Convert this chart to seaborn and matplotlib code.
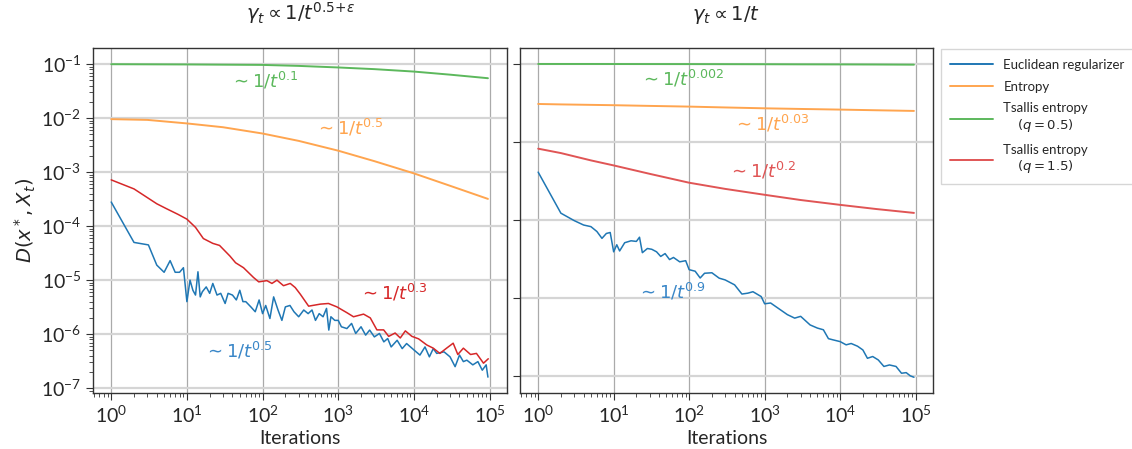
import numpy as np
import pandas as pd
import matplotlib
matplotlib.use("Agg")
import matplotlib.pyplot as plt
import seaborn as sns

# ---- data ----
# left panel: gamma_t ~ 1/t^(0.5+eps)
x_smooth = [1, 3, 10, 30, 100, 300, 1000, 3000, 10000, 30000, 95000]
left_green = [0.100, 0.0995, 0.099, 0.098, 0.097, 0.093, 0.087, 0.081, 0.073, 0.064, 0.055]
left_orange = [0.0096, 0.0093, 0.0080, 0.0068, 0.0052, 0.0038, 0.0025, 0.0016, 0.00095, 0.00056, 0.00032]

x_left_red = [1, 2, 4, 5.4, 7.6, 10, 13, 16.5, 22, 27, 37, 44, 56, 76, 89, 114, 133, 155, 189,
              232, 270, 315, 406, 580, 742, 960, 1300, 1590, 2160, 2650, 3240, 3980, 4640,
              5640, 6600, 7700, 9400, 11500, 14800, 18000, 22000, 27000, 33000, 38000,
              45000, 56000, 67000, 83000, 96000]
left_red = [7.2e-4, 4.9e-4, 2.6e-4, 2.1e-4, 1.66e-4, 1.35e-4, 9.5e-5, 5.9e-5, 4.8e-5, 4.4e-5,
            2.8e-5, 2.1e-5, 1.7e-5, 1.12e-5, 9.3e-6, 9.8e-6, 8.7e-6, 1.0e-5, 7.9e-6,
            8.7e-6, 7.3e-6, 5.5e-6, 3.3e-6, 3.6e-6, 3.7e-6, 3.2e-6, 2.5e-6, 2.1e-6, 2.35e-6,
            2.0e-6, 1.2e-6, 1.2e-6, 9.1e-7, 1.05e-6, 8.5e-7, 1.15e-6, 9.1e-7, 8.2e-7,
            6.3e-7, 5.5e-7, 4.4e-7, 5.5e-7, 6.8e-7, 4.2e-7, 5.5e-7, 4.2e-7, 4.4e-7,
            2.9e-7, 3.5e-7]

x_left_blue = [1, 2, 3.1, 4, 5, 6, 7, 8, 9, 10, 11, 12, 13, 14, 15, 16, 18, 20, 22, 25, 28, 32,
               35, 40, 45, 50, 55, 60, 70, 80, 90, 100, 110, 125, 140, 160, 180, 200, 230,
               260, 300, 350, 400, 450, 500, 560, 630, 700, 750, 800, 900, 1000, 1100, 1300,
               1500, 1700, 2000, 2300, 2600, 3000, 3500, 4000, 4500, 5000, 6000, 7000, 8000,
               10000, 12000, 14000, 16000, 18000, 20000, 25000, 30000, 35000, 40000, 45000,
               50000, 60000, 70000, 80000, 90000, 95000]
left_blue = [2.8e-4, 5.0e-5, 4.5e-5, 1.9e-5, 1.4e-5, 2.3e-5, 1.4e-5, 1.4e-5, 1.7e-5, 4.0e-6,
             1.0e-5, 6.5e-6, 5.3e-6, 1.43e-5, 4.9e-6, 6.1e-6, 7.5e-6, 5.7e-6, 8.7e-6, 5.3e-6,
             5.7e-6, 3.7e-6, 5.7e-6, 5.3e-6, 4.3e-6, 6.5e-6, 4.0e-6, 4.0e-6, 3.2e-6, 2.6e-6,
             4.3e-6, 2.4e-6, 3.4e-6, 1.95e-6, 4.9e-6, 2.8e-6, 1.8e-6, 3.2e-6, 3.4e-6,
             2.6e-6, 2.1e-6, 2.8e-6, 2.4e-6, 2.8e-6, 1.8e-6, 2.4e-6, 2.1e-6, 3.0e-6, 1.19e-6,
             2.1e-6, 1.8e-6, 1.8e-6, 1.37e-6, 1.27e-6, 1.58e-6, 1.03e-6, 1.37e-6, 9.6e-7,
             1.19e-6, 8.9e-7, 1.03e-6, 7.2e-7, 8.3e-7, 5.8e-7, 7.7e-7, 5.4e-7, 6.7e-7,
             5.1e-7, 4.1e-7, 5.8e-7, 3.8e-7, 5.4e-7, 4.4e-7, 4.7e-7, 3.8e-7, 2.5e-7, 4.1e-7,
             3.1e-7, 3.3e-7, 2.7e-7, 3.1e-7, 2.15e-7, 2.7e-7, 1.6e-7]

# right panel: gamma_t ~ 1/t
x_right_smooth = [1, 2, 5, 10, 30, 100, 300, 1000, 3000, 10000, 30000, 95000]
right_green = [0.100, 0.100, 0.100, 0.0999, 0.0998, 0.0997, 0.0995, 0.0993, 0.099, 0.0988, 0.0985, 0.098]
right_orange = [0.0307, 0.0303, 0.0299, 0.0296, 0.0290, 0.0284, 0.0277, 0.0270, 0.0265, 0.0260, 0.0255, 0.0250]
right_red = [8.2e-3, 7.2e-3, 5.8e-3, 5.0e-3, 3.9e-3, 3.0e-3, 2.5e-3, 2.1e-3, 1.8e-3, 1.56e-3, 1.38e-3, 1.23e-3]

x_right_blue = [1, 2, 3, 4, 5, 6, 7, 8, 9, 10, 11, 12, 14, 17, 20, 22, 24, 28, 32, 37, 42, 48, 55,
                62, 75, 90, 100, 120, 140, 160, 200, 250, 300, 400, 500, 600, 700, 900, 1000,
                1200, 1500, 2000, 2500, 3000, 4000, 5000, 6000, 7000, 8000, 10000, 12000,
                14000, 17000, 20000, 23000, 27000, 32000, 38000, 45000, 55000, 65000, 75000,
                85000, 95000]
right_blue = [4.1e-3, 1.22e-3, 9.8e-4, 8.6e-4, 8.2e-4, 7.1e-4, 5.8e-4, 6.7e-4, 6.9e-4, 3.9e-4,
              4.8e-4, 4.0e-4, 5.1e-4, 5.4e-4, 5.3e-4, 6.0e-4, 3.8e-4, 4.3e-4, 4.2e-4, 3.9e-4,
              3.4e-4, 3.7e-4, 3.1e-4, 3.3e-4, 2.9e-4, 3.0e-4, 2.3e-4, 2.2e-4, 1.8e-4, 2.07e-4,
              2.1e-4, 1.79e-4, 1.7e-4, 1.47e-4, 1.12e-4, 1.15e-4, 1.2e-4, 1.04e-4, 8.4e-5,
              8.6e-5, 7.4e-5, 6.1e-5, 5.5e-5, 5.8e-5, 4.5e-5, 4.1e-5, 3.9e-5, 3.0e-5, 2.9e-5,
              2.75e-5, 2.5e-5, 2.6e-5, 2.4e-5, 2.15e-5, 1.68e-5, 1.77e-5, 1.6e-5, 1.32e-5,
              1.38e-5, 1.32e-5, 1.08e-5, 1.1e-5, 1.0e-5, 9.6e-6]

labels = ["Euclidean regularizer", "Entropy", "Tsallis entropy\n$(q=0.5)$", "Tsallis entropy\n$(q=1.5)$"]
colors = ["#1f77b4", "#ffa54f", "#5cb85c", "#e05555"]

# ---- style ----
sns.set_style("ticks")
plt.rcParams['font.family'] = ['Lato', 'DejaVu Sans']
plt.rcParams['mathtext.fontset'] = 'dejavusans'

fig = plt.figure(figsize=(11.32, 4.49), dpi=100)
ax1 = fig.add_axes([0.0822, 0.1247, 0.3657, 0.7684])
ax2 = fig.add_axes([0.4594, 0.1247, 0.3648, 0.7684])

# left
sns.lineplot(x=x_left_blue, y=left_blue, ax=ax1, color=colors[0], lw=1.1, label=labels[0])
sns.lineplot(x=x_smooth, y=left_orange, ax=ax1, color=colors[1], lw=1.4, label=labels[1])
sns.lineplot(x=x_smooth, y=left_green, ax=ax1, color=colors[2], lw=1.4, label=labels[2])
sns.lineplot(x=x_left_red, y=left_red, ax=ax1, color="#d62728", lw=1.1, label=labels[3])

# right
sns.lineplot(x=x_right_blue, y=right_blue, ax=ax2, color=colors[0], lw=1.1, label=labels[0])
sns.lineplot(x=x_right_smooth, y=right_orange, ax=ax2, color=colors[1], lw=1.4, label=labels[1])
sns.lineplot(x=x_right_smooth, y=right_green, ax=ax2, color=colors[2], lw=1.4, label=labels[2])
sns.lineplot(x=x_right_smooth, y=right_red, ax=ax2, color=colors[3], lw=1.4, label=labels[3])

for ax in (ax1, ax2):
    ax.set_xscale('log')
    ax.set_yscale('log')
    ax.set_xlim(10 ** -0.24, 10 ** 5.23)
    ax.set_xticks([1, 10, 100, 1000, 10000, 100000])
    ax.tick_params(axis='both', which='major', labelsize=14, length=5, color='#333333')
    ax.tick_params(axis='both', which='minor', length=3, color='#333333')
    ax.grid(True, which='major', axis='x', color='#aaaaaa', lw=0.9)
    ax.grid(True, which='major', axis='y', color='#d5d5d5', lw=1.6)
    ax.set_xlabel("Iterations", fontsize=14, labelpad=3)
    for s in ax.spines.values():
        s.set_color('#333333')
        s.set_linewidth(1.0)
    ax.get_legend().remove()

ax1.set_ylim(10 ** -7.09, 10 ** -0.70)
ax1.set_yticks([1e-1, 1e-2, 1e-3, 1e-4, 1e-5, 1e-6, 1e-7])
ax1.set_ylabel("$D(x^*, X_t)$", fontsize=14, labelpad=2)
ax1.set_title(r"$\gamma_t \propto 1/t^{0.5{+}\epsilon}$", fontsize=14, pad=20)

ax2.set_ylim(10 ** -5.22, 10 ** -0.795)
ax2.set_yticks([1e-1, 1e-2, 1e-3, 1e-4, 1e-5])
ax2.yaxis.set_minor_locator(matplotlib.ticker.NullLocator())
ax2.set_yticklabels([])
ax2.set_title(r"$\gamma_t \propto 1/t$", fontsize=14, pad=20)

# rate annotations
ann_fs = 13
ax1.text(10 ** 1.57, 10 ** -1.30, r"$\sim 1/t^{0.1}$", color=colors[2], fontsize=ann_fs, va='center')
ax1.text(10 ** 2.69, 10 ** -2.17, r"$\sim 1/t^{0.5}$", color=colors[1], fontsize=ann_fs, va='center')
ax1.text(10 ** 3.27, 10 ** -5.22, r"$\sim 1/t^{0.3}$", color="#d62728", fontsize=ann_fs, va='center')
ax1.text(10 ** 1.22, 10 ** -6.30, r"$\sim 1/t^{0.5}$", color="#3a87c8", fontsize=ann_fs, va='center')

ax2.text(10 ** 1.35, 10 ** -1.18, r"$\sim 1/t^{0.002}$", color=colors[2], fontsize=ann_fs, va='center')
ax2.text(10 ** 2.58, 10 ** -1.76, r"$\sim 1/t^{0.03}$", color=colors[1], fontsize=ann_fs, va='center')
ax2.text(10 ** 2.51, 10 ** -2.37, r"$\sim 1/t^{0.2}$", color=colors[3], fontsize=ann_fs, va='center')
ax2.text(10 ** 1.31, 10 ** -3.92, r"$\sim 1/t^{0.9}$", color="#3a87c8", fontsize=ann_fs, va='center')

# legend outside on the right
handles = [plt.Line2D([], [], color=c, lw=1.4) for c in colors]
leg = ax2.legend(handles, labels, loc='upper left', bbox_to_anchor=(1.004, 1.015),
                 fontsize=9.5, fancybox=False, edgecolor='#cccccc', borderpad=0.7,
                 handlelength=3.2, labelspacing=0.75)
for t in leg.get_texts():
    t.set_multialignment('center')

fig.savefig("out.png", dpi=100)
